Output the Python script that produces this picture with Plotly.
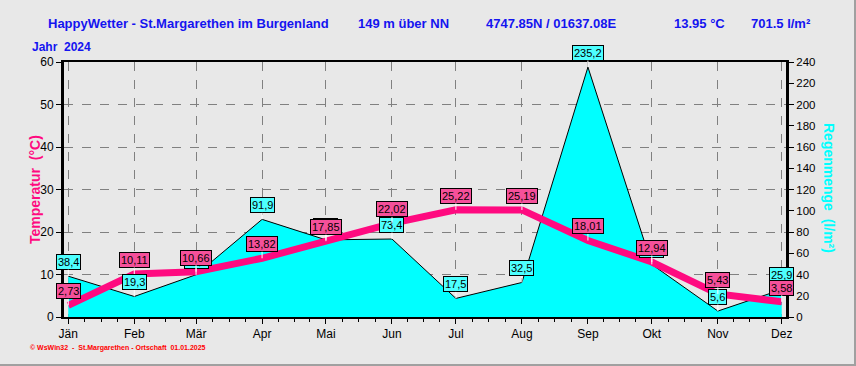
import pandas as pd
import plotly.graph_objects as go

months = ["Jän", "Feb", "Mär", "Apr", "Mai", "Jun", "Jul", "Aug", "Sep", "Okt", "Nov", "Dez"]
dates = pd.date_range("2024-01-01", periods=12, freq="MS")
temperature = [2.73, 10.11, 10.66, 13.82, 17.85, 22.02, 25.22, 25.19, 18.01, 12.94, 5.43, 3.58]
rain = [38.4, 19.3, 39.8, 91.9, 72.6, 73.4, 17.5, 32.5, 235.2, 49.5, 5.6, 25.9]

FONT = "Liberation Sans, Arial, sans-serif"
BG = "#E8E8E8"
PINK = "#FF0A80"
CYAN = "#00FFFF"
BLUE = "#1414F0"

fig = go.Figure()

# rain on axis "y" (drawn at the right side), temperature on "y2" (left side, drawn on top)
fig.add_trace(go.Scatter(
    x=dates, y=rain, yaxis="y", mode="lines",
    line=dict(color="black", width=1), fill="tozeroy", fillcolor=CYAN,
    hoverinfo="skip", showlegend=False,
))
fig.add_trace(go.Scatter(
    x=dates, y=temperature, yaxis="y2", mode="lines",
    line=dict(color=PINK, width=7), hoverinfo="skip", showlegend=False,
))

annotations = []
for d, r in zip(dates, rain):
    annotations.append(dict(
        x=d, y=r, xref="x", yref="y", text=f"{r:.1f}".replace(".", ","),
        showarrow=True, arrowhead=0, arrowwidth=1, arrowcolor="white", ax=0, ay=-14,
        font=dict(family=FONT, size=11, color="black"), bgcolor="#4DFFFF",
        bordercolor="black", borderwidth=1, borderpad=1,
    ))
for d, t in zip(dates, temperature):
    annotations.append(dict(
        x=d, y=t, xref="x", yref="y2", text=f"{t:.2f}".replace(".", ","),
        showarrow=True, arrowhead=0, arrowwidth=1, arrowcolor="white", ax=0, ay=-14,
        font=dict(family=FONT, size=11, color="black"), bgcolor="#F5509A",
        bordercolor="black", borderwidth=1, borderpad=1,
    ))

W, H = 856, 366
L, R, T, B = 64, 70, 62, 49
PW, PH = W - L - R, H - T - B

def px(x):
    return (x - L) / PW

def py(y):
    return (H - B - y) / PH

header = [
    ("HappyWetter - St.Margarethen im Burgenland", 46),
    ("149 m über NN", 356),
    ("4747.85N / 01637.08E", 484),
    ("13.95 °C", 672),
    ("701.5 l/m²", 749),
]
for txt, xpix in header:
    annotations.append(dict(
        x=px(xpix), y=py(23), xref="paper", yref="paper", xanchor="left", yanchor="middle",
        text=f"<b>{txt}</b>", showarrow=False, font=dict(family=FONT, size=13, color=BLUE),
    ))
annotations.append(dict(
    x=px(30), y=py(47), xref="paper", yref="paper", xanchor="left", yanchor="middle",
    text="<b>Jahr  2024</b>", showarrow=False, font=dict(family=FONT, size=12, color=BLUE),
))
annotations.append(dict(
    x=px(35), y=py(190), xref="paper", yref="paper", xanchor="center", yanchor="middle",
    text="<b>Temperatur  (°C)</b>", textangle=-90, showarrow=False,
    font=dict(family=FONT, size=14, color=PINK),
))
annotations.append(dict(
    x=px(829), y=py(188), xref="paper", yref="paper", xanchor="center", yanchor="middle",
    text="<b>Regenmenge  (l/m²)</b>", textangle=90, showarrow=False,
    font=dict(family=FONT, size=14, color=CYAN),
))
annotations.append(dict(
    x=px(28), y=py(348), xref="paper", yref="paper", xanchor="left", yanchor="middle",
    text="<b>© WsWin32  -  St.Margarethen - Ortschaft  01.01.2025</b>", showarrow=False,
    font=dict(family=FONT, size=7, color="#FF0000"),
))

# minor ticks: quarter-month positions
minor_vals = []
for a, b in zip(dates[:-1], dates[1:]):
    for k in (1, 2, 3):
        minor_vals.append(a + (b - a) * k / 4)

fig.update_layout(
    width=W, height=H, margin=dict(l=L, r=R, t=T, b=B),
    paper_bgcolor=BG, plot_bgcolor=BG, showlegend=False,
    font=dict(family=FONT, size=12, color="black"),
    annotations=annotations,
    xaxis=dict(
        type="date", range=[pd.Timestamp("2023-12-30"), pd.Timestamp("2024-12-03")],
        tickvals=list(dates), ticktext=months, ticks="outside", ticklen=5, tickcolor="black",
        showgrid=True, gridcolor="#808080", griddash="dash", gridwidth=1,
        showline=True, linecolor="black", linewidth=2, mirror=True,
        minor=dict(tickmode="array", tickvals=minor_vals, ticks="outside", ticklen=3,
                   tickcolor="black", showgrid=False),
        zeroline=False, tickfont=dict(size=12),
    ),
    yaxis=dict(
        range=[0, 240], dtick=20, side="right", ticks="outside",
        ticklen=5, tickcolor="black", showgrid=False, showline=True, linecolor="black",
        linewidth=3, zeroline=False, tickfont=dict(size=11.5),
    ),
    yaxis2=dict(
        range=[0, 60], dtick=10, side="left", overlaying="y", ticks="outside", ticklen=5,
        tickcolor="black", showgrid=True, gridcolor="#808080", griddash="dash", gridwidth=1,
        showline=True, linecolor="black", linewidth=3, zeroline=False,
        tickfont=dict(size=12),
    ),
    shapes=[
        dict(type="line", xref="paper", yref="paper", x0=px(855), x1=px(855), y0=py(0), y1=py(365),
             line=dict(color="#A0A0A0", width=2)),
        dict(type="line", xref="paper", yref="paper", x0=px(0), x1=px(856), y0=py(365), y1=py(365),
             line=dict(color="#A0A0A0", width=2)),
    ],
)

fig.write_html("out.html")
